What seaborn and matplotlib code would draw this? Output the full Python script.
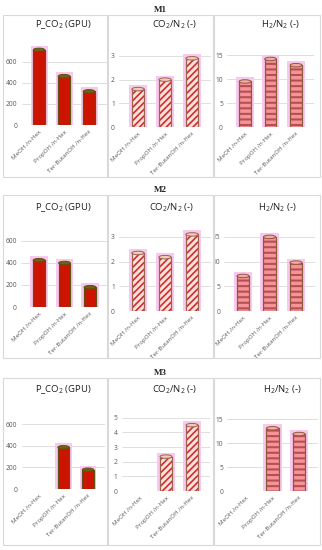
import matplotlib
matplotlib.use("Agg")
import matplotlib.pyplot as plt
from matplotlib.patches import Ellipse, Rectangle
import seaborn as sns

# data
categories = ["MeOH /n-Hex", "PropOH /n-Hex", "Ter-ButanOH /n-Hex"]

m1_pco2 = [715, 465, 320]
m1_co2n2 = [1.6, 2.0, 2.9]
m1_h2n2 = [9.5, 14.2, 12.9]

m2_pco2 = [425, 400, 180]
m2_co2n2 = [2.35, 2.18, 3.1]
m2_h2n2 = [7.1, 15.0, 9.8]

m3_pco2 = [0, 385, 178]
m3_co2n2 = [0, 2.35, 4.5]
m3_h2n2 = [0, 13.1, 11.9]

titles = ["P_CO$_2$ (GPU)", "CO$_2$/N$_2$ (-)", "H$_2$/N$_2$ (-)"]
row_names = ["M1", "M2", "M3"]

sns.set_style("white")
plt.rcParams["font.family"] = ["Open Sans", "DejaVu Sans"]
plt.rcParams["mathtext.fontset"] = "custom"
plt.rcParams["mathtext.rm"] = "Open Sans"
plt.rcParams["mathtext.default"] = "regular"

W, H = 322, 550
fig = plt.figure(figsize=(W / 100, H / 100), dpi=100)

# pixel layout: first bar x, last bar x, zero y, top y, ymax, ticks
layout = [
    [(39, 89, 125, 46, 752, [0, 200, 400, 600]),
     (138, 192, 127, 46, 3.42, [0, 1, 2, 3]),
     (245, 296, 127, 46, 16.9, [0, 5, 10, 15])],
    [(39, 90, 307, 228, 718, [0, 200, 400, 600]),
     (138, 192, 311, 228, 3.36, [0, 1, 2, 3]),
     (243, 296, 311, 228, 16.8, [0, 5, 10, 15])],
    [(39, 88, 489, 412, 711, [0, 200, 400, 600]),
     (140, 192, 491, 412, 5.4, [0, 1, 2, 3, 4, 5]),
     (246, 299, 491, 412, 16.5, [0, 5, 10, 15])],
]
title_pos = [[(63, 25), (175, 25), (280, 25)],
             [(63, 208), (172, 208), (277, 208)],
             [(63, 390), (175, 390), (282, 390)]]
frames_y = [(15, 177), (195, 358), (378, 545)]
frames_x = [(3, 107), (108, 213), (214, 320)]
label_y = [10, 190, 373]

data = [[m1_pco2, m1_co2n2, m1_h2n2],
        [m2_pco2, m2_co2n2, m2_h2n2],
        [m3_pco2, m3_co2n2, m3_h2n2]]

styles = [
    dict(face="#cc1400", hatch=None, hcol="#cc1400", hlw=1.0, edge="#5e5010", top="#6e6216"),
    dict(face="#fbe3dc", hatch="/////", hcol="#d42a2c", hlw=1.2, edge="#9a6450", top="#f3c9b8"),
    dict(face="#f6939a", hatch="---", hcol="#b45050", hlw=1.5, edge="#8e5a3c", top="#f6a8a8"),
]

# panel frames
for (y0, y1) in frames_y:
    for (x0, x1) in frames_x:
        fig.patches.append(Rectangle((x0 / W, 1 - y1 / H), (x1 - x0) / W, (y1 - y0) / H,
                                     transform=fig.transFigure, fill=False,
                                     edgecolor="#d9d9d9", linewidth=0.8))

for r in range(3):
    fig.text(160 / W, 1 - label_y[r] / H, row_names[r], ha="center", va="center",
             fontsize=6.5, fontweight="bold", family="Liberation Serif")
    for c in range(3):
        bx0, bx1, zy, ty, ymax, ticks = layout[r][c]
        s = (bx1 - bx0) / 2
        left = bx0 - 0.7 * s
        right = bx1 + 0.7 * s
        ax = fig.add_axes([left / W, 1 - zy / H, (right - left) / W, (zy - ty) / H])
        vals = data[r][c]
        st = styles[c]
        pxu = (zy - ty) / ymax  # pixels per data unit

        # pink highlight behind bars
        hl = [v + 4 / pxu if v > 0 else 0 for v in vals]
        sns.barplot(x=categories, y=hl, ax=ax, color="#f9c8ef", width=0.68,
                    saturation=1, linewidth=0)
        # hatched body
        plt.rcParams["hatch.linewidth"] = st["hlw"]
        sns.barplot(x=categories, y=vals, ax=ax, color=st["face"], width=0.46,
                    saturation=1, edgecolor=st["hcol"], linewidth=0.4,
                    hatch=st["hatch"])
        # outline
        sns.barplot(x=categories, y=vals, ax=ax, fill=False, width=0.46,
                    edgecolor=st["edge"], linewidth=0.9)
        for p in ax.patches:
            if p.get_height() == 0:
                p.set_visible(False)
        for i, v in enumerate(vals):
            if v > 0:
                ax.add_patch(Ellipse((i, v), 0.46, 3.5 / pxu, facecolor=st["top"],
                                     edgecolor=st["edge"], linewidth=0.7, zorder=5))

        ax.set_xlim(-0.7, 2.7)
        ax.set_ylim(0, ymax)
        ax.set_yticks(ticks)
        ax.set_yticklabels([str(t) for t in ticks])
        ax.yaxis.grid(True, color="#d9d9d9", linewidth=0.6)
        ax.set_axisbelow(True)
        for sp in ax.spines.values():
            sp.set_visible(False)
        ax.tick_params(axis="both", length=0, labelsize=4.8, colors="#595959", pad=3)
        ax.set_xticks(range(len(categories)))
        ax.set_xticklabels(categories, rotation=45, ha="right", rotation_mode="anchor",
                           fontsize=4.4)
        ax.set_xlabel("")
        ax.set_ylabel("")
        ax.patch.set_alpha(0)

        tx, tyy = title_pos[r][c]
        fig.text(tx / W, 1 - tyy / H, titles[c], ha="center", va="center", fontsize=6.8,
                 color="#202020")

fig.savefig("out.png", dpi=100)
